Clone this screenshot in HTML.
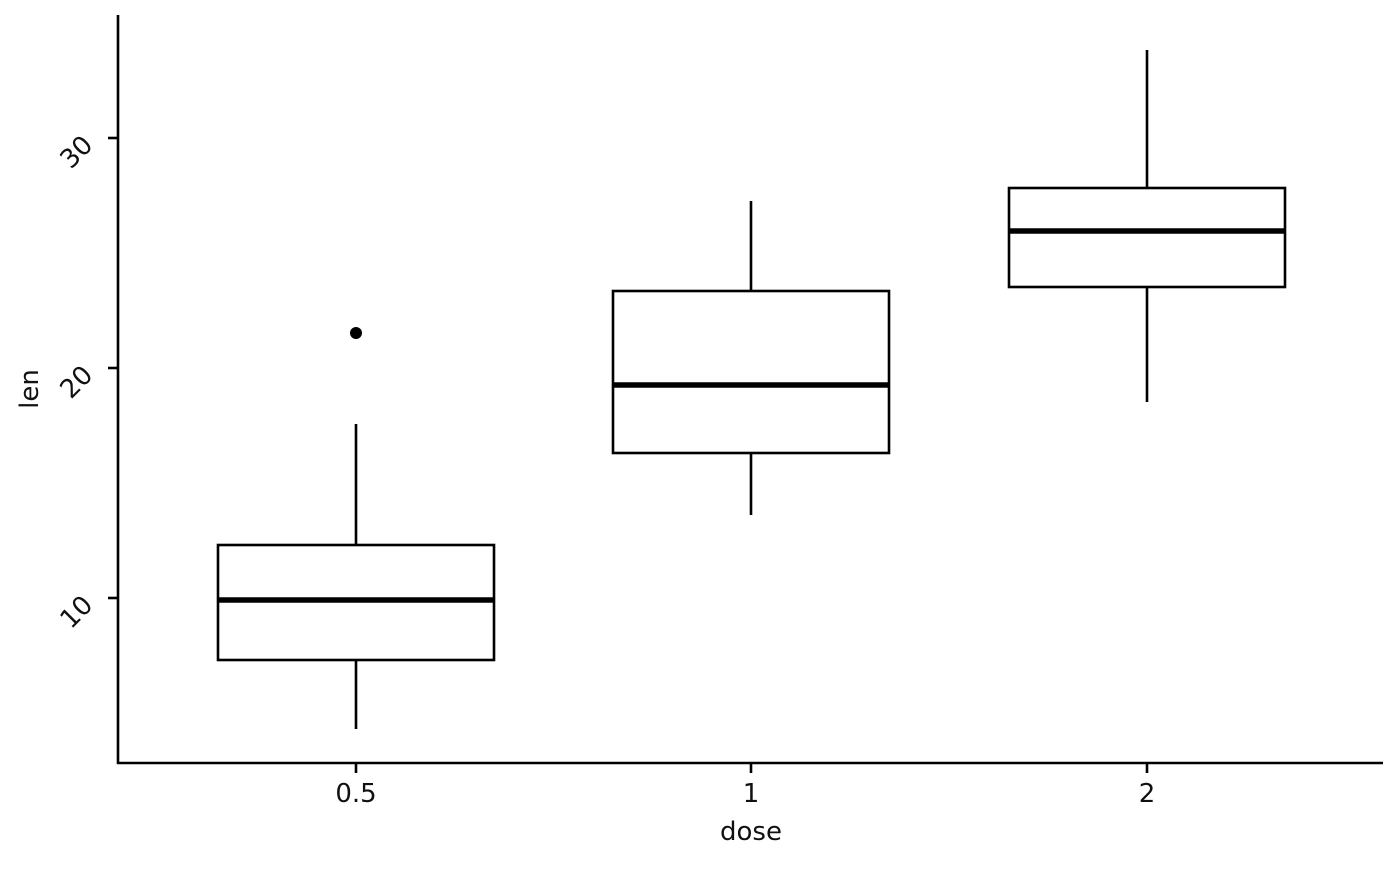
<!DOCTYPE html>
<html><head><style>html,body{margin:0;padding:0;background:#fff}</style></head><body>
<svg width="1400" height="866" xmlns="http://www.w3.org/2000/svg" font-family="'DejaVu Sans','Liberation Sans',sans-serif" font-size="26">
<rect width="1400" height="866" fill="#fff"/>
<g stroke="#000" stroke-width="2.6" fill="none">
<line x1="118" y1="15" x2="118" y2="764"/>
<line x1="117" y1="763" x2="1383" y2="763"/>
<line x1="108" y1="138" x2="118" y2="138"/>
<line x1="108" y1="368" x2="118" y2="368"/>
<line x1="108" y1="598" x2="118" y2="598"/>
<line x1="356" y1="763" x2="356" y2="773"/>
<line x1="751" y1="763" x2="751" y2="773"/>
<line x1="1147" y1="763" x2="1147" y2="773"/>
<line x1="356" y1="424" x2="356" y2="545"/>
<line x1="356" y1="660" x2="356" y2="729"/>
<rect x="218" y="545" width="276" height="115" fill="#fff"/>
<line x1="218" y1="600" x2="494" y2="600" stroke-width="5.5"/>
<line x1="751" y1="201" x2="751" y2="291"/>
<line x1="751" y1="453" x2="751" y2="515"/>
<rect x="613" y="291" width="276" height="162" fill="#fff"/>
<line x1="613" y1="385" x2="889" y2="385" stroke-width="5.5"/>
<line x1="1147" y1="50" x2="1147" y2="188"/>
<line x1="1147" y1="287" x2="1147" y2="402"/>
<rect x="1009" y="188" width="276" height="99" fill="#fff"/>
<line x1="1009" y1="231" x2="1285" y2="231" stroke-width="5.5"/>
</g>
<circle cx="356" cy="333" r="6" fill="#000"/>
<g fill="#111" text-anchor="middle">
<text x="356" y="802">0.5</text>
<text x="751" y="802">1</text>
<text x="1147" y="802">2</text>
<text x="751" y="840">dose</text>
<text transform="translate(38,389) rotate(-90)">len</text>
<text transform="translate(78,150) rotate(-45)" text-anchor="end" x="14" y="9">30</text>
<text transform="translate(78,380) rotate(-45)" text-anchor="end" x="14" y="9">20</text>
<text transform="translate(78,610) rotate(-45)" text-anchor="end" x="14" y="9">10</text>
</g>
</svg>
</body></html>
